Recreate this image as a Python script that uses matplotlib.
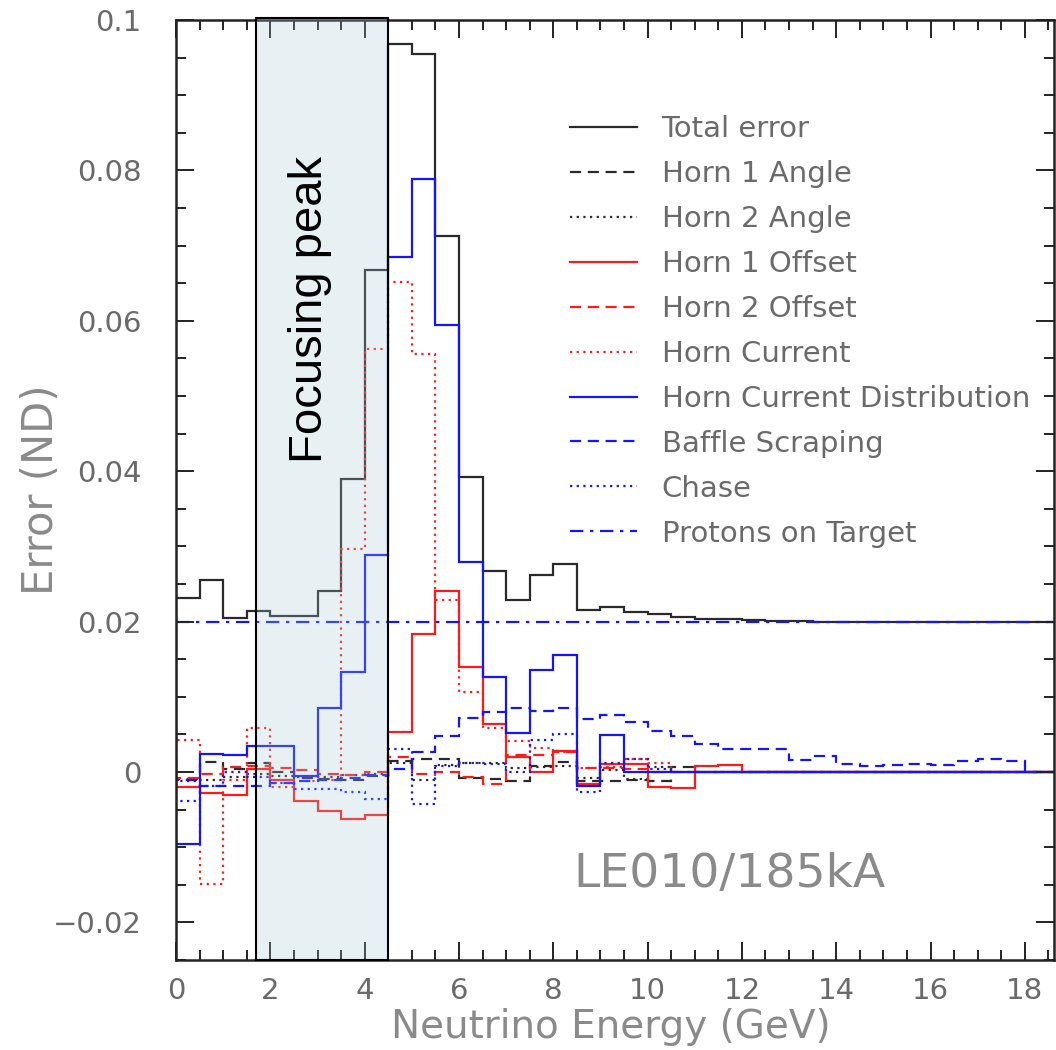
import numpy as np
import matplotlib
matplotlib.use("Agg")
import matplotlib.pyplot as plt
from matplotlib.patches import Rectangle
from matplotlib.ticker import MultipleLocator, FuncFormatter

plt.rcParams['font.family'] = ['DejaVu Sans']

# 0.5 GeV bins from 0 to 19 GeV
bin_edges = np.arange(0, 19.5, 0.5)

total_error = [0.0231, 0.0255, 0.0205, 0.0214, 0.0207, 0.0208, 0.0241, 0.0389,
               0.0667, 0.0968, 0.0955, 0.0713, 0.0392, 0.0267, 0.0229, 0.0262,
               0.0276, 0.0216, 0.0220, 0.0213, 0.0210, 0.0206, 0.0204, 0.0203,
               0.0202, 0.0201, 0.0201, 0.0200, 0.0200, 0.0200, 0.0200, 0.0200,
               0.0200, 0.0200, 0.0200, 0.0200, 0.0200, 0.0200]
horn1_angle = [-0.0009, 0.0013, 0.0004, 0.0012, 0.0000, -0.0008, -0.0009, -0.0010,
               -0.0005, 0.0014, 0.0017, 0.0017, -0.0008, -0.0009, -0.0012, 0.0008,
               0.0013, -0.0012, -0.0012, -0.0010, -0.0012, 0.0006, 0, 0,
               0, 0, 0, 0, 0, 0, 0, 0, 0, 0, 0, 0, 0, 0]
horn2_angle = [-0.0012, -0.0010, -0.0006, -0.0003, -0.0005, -0.0006, -0.0006, -0.0004,
               -0.0002, 0.0012, -0.0010, 0.0009, 0.0012, 0.0012, 0.0005, 0.0006,
               0.0008, -0.0008, 0.0003, -0.0009, 0.0006, 0, 0, 0,
               0, 0, 0, 0, 0, 0, 0, 0, 0, 0, 0, 0, 0, 0]
horn1_offset = [-0.0020, -0.0028, -0.0031, 0.0004, -0.0010, -0.0039, -0.0052, -0.0062,
                -0.0057, 0.0053, 0.0183, 0.0241, 0.0139, 0.0064, 0.0020, 0.0000,
                0.0028, -0.0016, 0.0010, 0.0011, -0.0020, -0.0021, 0.0008, 0.0009,
                0, 0, 0, 0, 0, 0, 0, 0, 0, 0, 0, 0, 0, 0]
horn2_offset = [-0.0008, -0.0003, 0.0006, 0.0008, 0.0005, 0.0003, -0.0002, -0.0004,
                0.0000, 0.0020, -0.0003, 0.0000, -0.0007, -0.0016, 0.0023, 0.0022,
                0.0026, 0.0005, 0.0005, 0.0004, 0, 0, 0, 0,
                0, 0, 0, 0, 0, 0, 0, 0, 0, 0, 0, 0, 0, 0]
horn_current = [0.0042, -0.0149, -0.0010, 0.0059, -0.0020, -0.0012, -0.0010, 0.0297,
                0.0562, 0.0651, 0.0556, 0.0229, 0.0107, 0.0058, 0.0041, 0.0032,
                0.0026, 0.0005, 0.0007, 0.0017, 0.0012, 0, 0, 0,
                0, 0, 0, 0, 0, 0, 0, 0, 0, 0, 0, 0, 0, 0]
horn_current_dist = [-0.0096, 0.0024, 0.0023, 0.0035, 0.0035, -0.0005, 0.0085, 0.0133,
                     0.0289, 0.0685, 0.0788, 0.0595, 0.0279, 0.0126, 0.0052, 0.0136,
                     0.0155, -0.0018, 0.0049, 0, 0, 0, 0, 0,
                     0, 0, 0, 0, 0, 0, 0, 0, 0, 0, 0, 0, 0, 0]
baffle_scraping = [-0.0010, -0.0018, -0.0018, -0.0018, -0.0015, -0.0012, -0.0010, -0.0008,
                   -0.0004, 0.0004, 0.0026, 0.0048, 0.0072, 0.0080, 0.0085, 0.0081,
                   0.0085, 0.0070, 0.0076, 0.0066, 0.0054, 0.0048, 0.0037, 0.0030,
                   0.0030, 0.0030, 0.0016, 0.0021, 0.0011, 0.0008, 0.0009, 0.0011,
                   0.0009, 0.0014, 0.0017, 0.0014, 0, 0]
chase = [-0.0038, -0.0018, 0.0000, -0.0006, -0.0015, -0.0022, -0.0023, -0.0027,
         -0.0036, 0.0030, -0.0043, 0.0008, 0.0012, 0.0011, 0.0000, 0.0042,
         0.0050, -0.0027, 0.0012, 0.0017, 0.0004, 0, 0, 0,
         0, 0, 0, 0, 0, 0, 0, 0, 0, 0, 0, 0, 0, 0]
protons_on_target = [0.020] * 38

labels = ["Total error", "Horn 1 Angle", "Horn 2 Angle", "Horn 1 Offset",
          "Horn 2 Offset", "Horn Current", "Horn Current Distribution",
          "Baffle Scraping", "Chase", "Protons on Target"]

RED = '#ff1a1a'
BLUE = '#1414ff'
BLK = '#2a2a2a'
dash = (0, (5, 3))
dot = (0, (1, 2))
dashdot = (0, (6, 3, 1.5, 3))

series = [
    (total_error, BLK, '-'),
    (horn1_angle, BLK, dash),
    (horn2_angle, BLK, dot),
    (horn1_offset, RED, '-'),
    (horn2_offset, RED, dash),
    (horn_current, RED, dot),
    (horn_current_dist, BLUE, '-'),
    (baffle_scraping, BLUE, dash),
    (chase, BLUE, dot),
    (protons_on_target, BLUE, dashdot),
]

fig = plt.figure(figsize=(10.56, 10.5), dpi=100)
ax = fig.add_axes([0.1667, 0.0857, 0.8315, 0.8953])

for (vals, col, ls), lab in zip(series, labels):
    ax.stairs(vals, bin_edges, baseline=0, color=col, linestyle=ls, lw=1.6,
              label=lab)

# focusing peak band, overlaid on the lines
ax.add_patch(Rectangle((1.7, -0.025), 2.8, 0.1253, facecolor='#a3cbd3',
                       alpha=0.26, edgecolor='none', zorder=5, clip_on=False))
ax.add_patch(Rectangle((1.7, -0.025), 2.8, 0.1253, facecolor='none',
                       edgecolor='black', lw=1.5, zorder=6, clip_on=False))
ax.text(2.84, 0.0615, "Focusing peak", rotation=90, ha='center', va='center',
        fontsize=34, family='Liberation Sans', color='black', zorder=7)

ax.text(11.74, -0.0136, "LE010/185kA", ha='center', va='center',
        fontsize=34, color='#8a8a8a')

ax.set_xlim(0, 18.62)
ax.set_ylim(-0.025, 0.1)
ax.xaxis.set_major_locator(MultipleLocator(2))
ax.xaxis.set_minor_locator(MultipleLocator(0.5))
ax.yaxis.set_major_locator(MultipleLocator(0.02))
ax.yaxis.set_minor_locator(MultipleLocator(0.005))
ax.yaxis.set_major_formatter(FuncFormatter(
    lambda v, p: '0' if abs(v) < 1e-9 else ('%g' % v).replace('-', '\u2212')))
ax.tick_params(which='both', direction='in', top=True, right=True,
               labelsize=21, labelcolor='#6a6a6a', width=1.4, color='#222222')
ax.tick_params(which='major', length=13)
ax.tick_params(which='minor', length=7)
ax.tick_params(axis='y', which='major', pad=25)
ax.tick_params(axis='x', which='major', pad=12)
for s in ax.spines.values():
    s.set_linewidth(1.8)
    s.set_color('#222222')

ax.set_xlabel("Neutrino Energy (GeV)", fontsize=28, color='#8a8a8a')
ax.set_ylabel("Error (ND)", fontsize=30, color='#8a8a8a')
ax.xaxis.set_label_coords(0.495, -0.051, transform=ax.transAxes)
ax.yaxis.set_label_coords(-0.13, 0.5, transform=ax.transAxes)

leg = ax.legend(loc='upper left', bbox_to_anchor=(0.435, 0.911), frameon=False,
                fontsize=21, handlelength=2.3, handletextpad=0.85,
                labelspacing=0.58, borderaxespad=0)
for t in leg.get_texts():
    t.set_color('#6a6a6a')
leg.set_zorder(8)

fig.savefig("out.png", dpi=100)
